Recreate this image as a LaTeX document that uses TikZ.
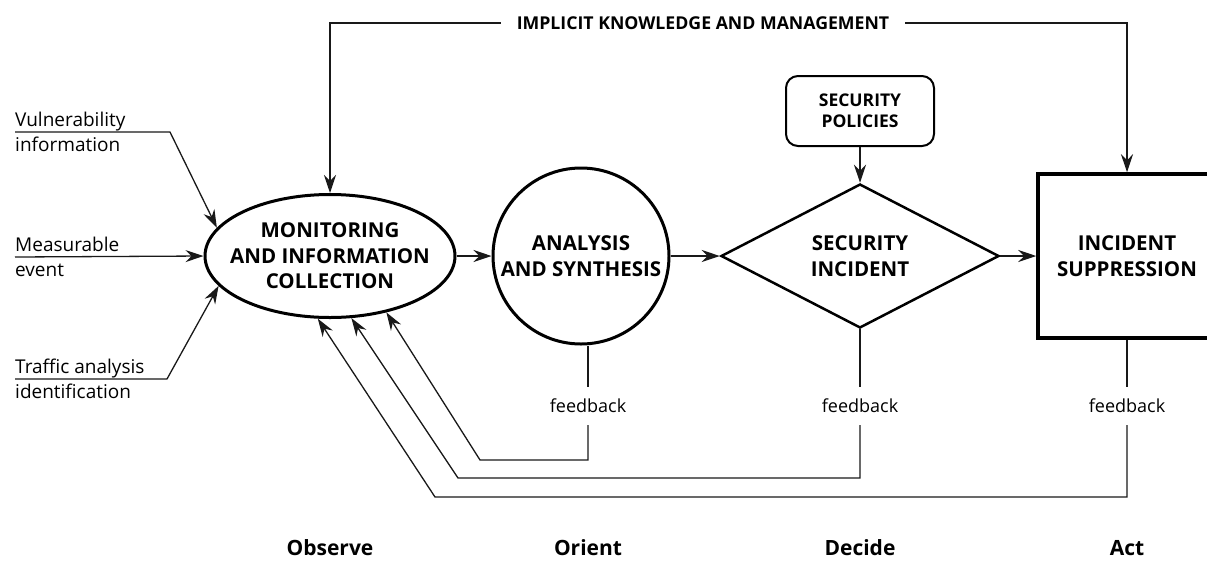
\documentclass[tikz,border=0pt]{standalone}
\usepackage{fontspec}
\setmainfont{Open Sans}
\usetikzlibrary{arrows.meta,shapes.geometric}

\begin{document}
\begin{tikzpicture}[x=1pt,y=-1pt,
  conn/.style={line width=1.3pt,draw=black!90},
  arr/.style={conn,-{Stealth[length=18pt,width=12pt,inset=6pt]}},
  title/.style={font=\bfseries\fontsize{20.5}{25.5}\selectfont,align=center,inner sep=0pt},
  inlabel/.style={font=\fontsize{19}{25}\selectfont,align=left,anchor=west,inner sep=0pt},
  fbk/.style={font=\fontsize{18}{20}\selectfont,inner xsep=0pt,inner ysep=12pt},
  phase/.style={font=\bfseries\fontsize{21}{25}\selectfont}]
\useasboundingbox (0,0) rectangle (1207,579);
\clip (0,0) rectangle (1207,579);

% main stages
\node[ellipse,draw,line width=3pt,title,inner xsep=-17pt,inner ysep=0pt,minimum width=250pt,minimum height=123pt] (mon) at (330,256)
  {MONITORING\\AND INFORMATION\\COLLECTION};
\node[circle,draw,line width=3pt,title,inner sep=-6pt,minimum size=176pt] (ana) at (581,256)
  {ANALYSIS\\AND SYNTHESIS};
\node[diamond,draw,line width=2.5pt,minimum width=278pt,minimum height=144pt,shape aspect=1.93,title] (dia) at (860,256)
  {SECURITY\\INCIDENT};
\node[draw,line width=3.5pt,minimum width=178pt,minimum height=164pt,title] (sup) at (1127,256)
  {INCIDENT\\SUPPRESSION};
\node[draw,rounded corners=12pt,line width=2pt,minimum width=148pt,minimum height=70pt,title,font=\bfseries\fontsize{17.5}{21}\selectfont] (pol) at (860,111)
  {SECURITY\\POLICIES};

% implicit knowledge
\node[font=\bfseries\fontsize{17.7}{20}\selectfont,inner xsep=16pt] (imp) at (703,23) {IMPLICIT KNOWLEDGE AND MANAGEMENT};
\draw[arr] (imp.west) -| (mon.north);
\draw[arr] (imp.east) -| (sup.north);

% main flow
\draw[arr] (mon) -- (ana);
\draw[arr] (ana) -- (dia);
\draw[arr] (dia) -- (sup);
\draw[arr] (pol) -- (dia);

% inputs
\node[inlabel] (vul) at (15,132) {Vulnerability\\information};
\node[inlabel] (mea) at (15,257) {Measurable\\event};
\node[inlabel] (tra) at (15,379) {Traffic analysis\\identification};
\coordinate (vulc) at (170,132);
\coordinate (trac) at (167,379);
\draw[arr] (vul.west) -- (vulc) -- (mon.166);
\draw[arr] (mea.west) -- (mon.west);
\draw[arr] (tra.west) -- (trac) -- (mon.195);

% feedback loops
\node[fbk] (fb1) at (588,406) {feedback};
\node[fbk] (fb2) at (860,406) {feedback};
\node[fbk] (fb3) at (1127,406) {feedback};
\coordinate (c1) at (480,460);
\coordinate (c2) at (458,478);
\coordinate (c3) at (435,497);
\draw[conn] (fb1.north |- ana.south) -- (fb1.north);
\draw[conn] (dia.south) -- (fb2.north);
\draw[conn] (sup.south) -- (fb3.north);
\draw[arr] (fb1.south) |- (c1) -- (mon.315);
\draw[arr] (fb2.south) |- (c2) -- (mon.289);
\draw[arr] (fb3.south) |- (c3) -- (mon.259);

% OODA phases
\node[phase] (obs) at (330,548) {Observe};
\node[phase] (ori) at (588,548) {Orient};
\node[phase] (dec) at (860,548) {Decide};
\node[phase] (act) at (1127,548) {Act};
\end{tikzpicture}
\end{document}
